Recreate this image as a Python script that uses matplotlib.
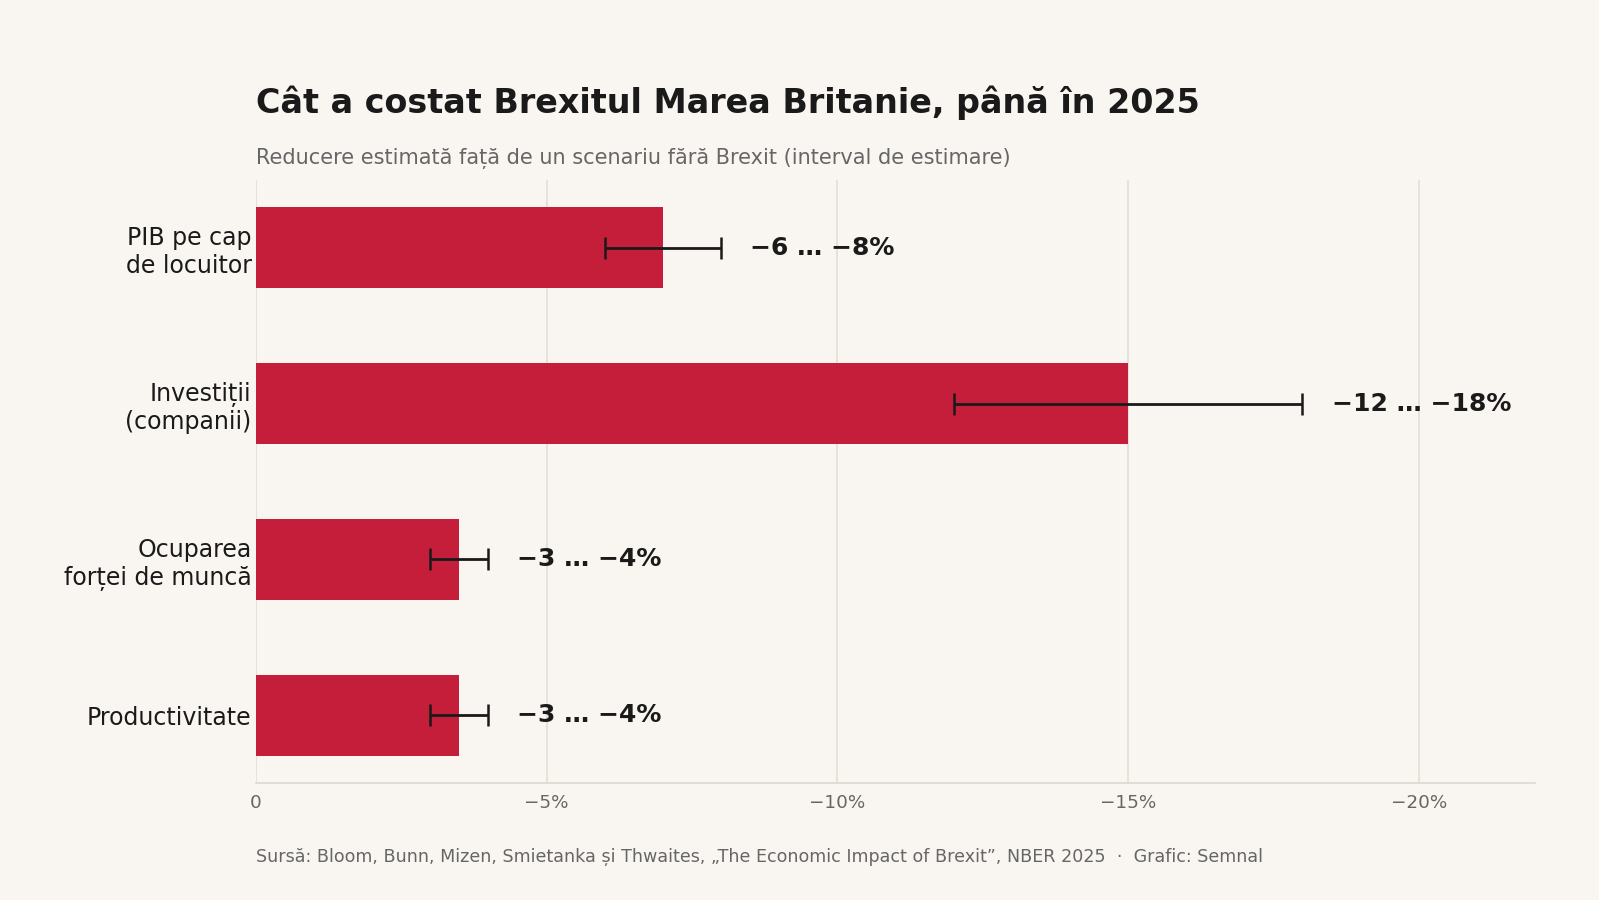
import numpy as np
import matplotlib.pyplot as plt

categorii = ['PIB pe cap\nde locuitor', 'Investiții\n(companii)', 'Ocuparea\nforței de muncă', 'Productivitate']
valori = [7, 15, 3.5, 3.5]
minim = [6, 12, 3, 3]
maxim = [8, 18, 4, 4]
etichete = ['−6 … −8%', '−12 … −18%', '−3 … −4%', '−3 … −4%']
ticks = [0, 5, 10, 15, 20]
tick_labels = ['0', '−5%', '−10%', '−15%', '−20%']

fundal = '#F9F6F1'
rosu = '#C41E3A'
negru = '#1A1A1A'
gri = '#666666'

fig = plt.figure(figsize=(15.99, 9), dpi=100, facecolor=fundal)
ax = fig.add_axes([0.160, 0.130, 0.800, 0.670], facecolor=fundal)

y = np.arange(len(categorii))
ax.barh(y, valori, height=0.52, color=rosu, zorder=2)

lo = np.array(valori) - np.array(minim)
hi = np.array(maxim) - np.array(valori)
ax.errorbar(valori, y, xerr=[lo, hi], fmt='none', ecolor=negru, elinewidth=2,
            capsize=8, capthick=1.8, zorder=3)

for yi, m, t in zip(y, maxim, etichete):
    ax.text(m + 0.5, yi, t, va='center', ha='left', fontsize=18, fontweight='bold', color=negru)

ax.set_xlim(0, 22)
ax.invert_yaxis()
ax.set_yticks(y)
ax.set_yticklabels(categorii, fontsize=17, color=negru)
ax.set_xticks(ticks)
ax.set_xticklabels(tick_labels, fontsize=13.2, color=gri)
ax.tick_params(axis='both', length=0)
ax.tick_params(axis='y', pad=3)
ax.tick_params(axis='x', pad=8)
ax.grid(axis='x', color='#E3DED4', linewidth=1.2, zorder=0)
for s in ['top', 'right', 'left']:
    ax.spines[s].set_visible(False)
ax.spines['bottom'].set_color('#DDD8CF')
ax.spines['bottom'].set_linewidth(1.2)

fig.text(0.160, 0.874, 'Cât a costat Brexitul Marea Britanie, până în 2025',
         fontsize=24, fontweight='bold', color=negru, ha='left', va='baseline')
fig.text(0.160, 0.818, 'Reducere estimată față de un scenariu fără Brexit (interval de estimare)',
         fontsize=15, color=gri, ha='left', va='baseline')
fig.text(0.160, 0.042, 'Sursă: Bloom, Bunn, Mizen, Smietanka și Thwaites, „The Economic Impact of Brexit”, NBER 2025  ·  Grafic: Semnal',
         fontsize=12.6, color=gri, ha='left', va='baseline')

fig.savefig('out.png', dpi=100, facecolor=fundal)
